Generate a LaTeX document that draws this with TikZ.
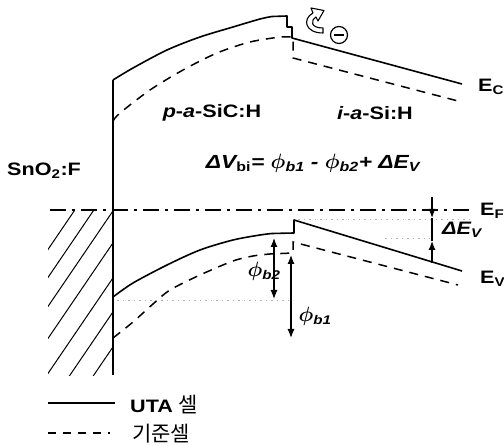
\documentclass[tikz,border=0pt]{standalone}
\usepackage{fontspec}
\setmainfont[FakeStretch=1.2]{Liberation Sans}
\newfontfamily\krfont{Noto Sans CJK KR}
\usetikzlibrary{arrows.meta}
\tikzset{
  lbl/.style={font=\fontsize{18}{20}\selectfont\bfseries, inner sep=0pt},
  band/.style={line width=1.6pt, line join=round},
  bandd/.style={line width=1.5pt, dash pattern=on 9pt off 7pt},
  fermi/.style={line width=1.3pt, dash pattern=on 16pt off 6pt on 3pt off 6pt},
  faint/.style={gray!60, line width=0.6pt, dash pattern=on 1.5pt off 4pt},
  dim/.style={line width=1.2pt, {Latex[length=9pt,width=7pt]}-{Latex[length=9pt,width=7pt]}},
  dimone/.style={line width=1.2pt, -{Latex[length=9pt,width=7pt]}},
  hatchline/.style={line width=1pt}
}
\newcommand{\phisym}{{\fontsize{21}{22}\selectfont\boldmath$\phi$}}
\begin{document}
\begin{tikzpicture}[x=1pt,y=-1pt]
\useasboundingbox (0,0) rectangle (504,446);

% named coordinates
\coordinate (wtop) at (113,80);
\coordinate (wbot) at (113,375);
\coordinate (efL) at (50,210);
\coordinate (efR) at (470,210);

% hatched electrode
\begin{scope}
\clip (48,212) rectangle (113,376);
\foreach \c in {320,348,377,409,444,478,513}{
  \draw[hatchline] (40,\c-58.8) -- (120,\c-176.4);
}
\end{scope}

% electrode boundary
\draw[line width=1.4pt] (wtop) -- (wbot);

% Fermi level
\draw[fermi] (efL) -- (efR);

% faint dotted guides
\coordinate (d1a) at (117,300); \coordinate (d1b) at (293,300);
\coordinate (d2a) at (298,219); \coordinate (d2b) at (470,219);
\coordinate (d3a) at (385,238); \coordinate (d3b) at (430,238);
\draw[faint] (d1a) -- (d1b);
\draw[faint] (d2a) -- (d2b);
\draw[faint] (d3a) -- (d3b);

% conduction band, UTA cell (solid)
\draw[band] plot[smooth] coordinates {(113,80) (133,68) (167,50) (200,37) (233,27) (260,19) (272,16.5)}
  -- (287,16) -- (287,27) -- (292,27) -- (292,38) -- (462,84);
% conduction band, reference cell (dashed)
\draw[bandd] plot[smooth] coordinates {(113,121) (120,113) (150,90) (183,70) (217,53) (250,42) (280,37)}
  -- (293,37) -- (293,58) -- (458,101);

% valence band, UTA cell (solid)
\draw[band] plot[smooth] coordinates {(113,297) (133,283) (167,265) (200,250) (233,240) (260,235) (272,233.5)}
  -- (294,233) -- (294,220) -- (462,271);
% valence band, reference cell (dashed)
\draw[bandd] plot[smooth] coordinates {(113,338) (133,322) (153,304) (170,290) (200,275) (233,261) (253,256) (270,254)}
  -- (293,253) -- (293,242) -- (458,285);

% barrier arrows
\coordinate (b2t) at (274,238); \coordinate (b2b) at (274,299);
\coordinate (b1t) at (291,255); \coordinate (b1b) at (291,338);
\draw[dim] (b2t) -- (b2b);
\draw[dim] (b1t) -- (b1b);

% Delta E_V arrows
\coordinate (dvA) at (432,197); \coordinate (dvB) at (432,218);
\coordinate (dvC) at (432,241); \coordinate (dvD) at (432,263);
\draw[dimone] (dvA) -- (dvB);
\draw[line width=1.2pt] (dvB) -- (dvC);
\draw[dimone] (dvD) -- (dvC);

% electron with curved arrow
\draw[line width=1.1pt, fill=white, line join=round]
  (323,33) .. controls (305,33) and (302,19) .. (313,13) -- (311,8) -- (324,10.5)
  -- (318,21) -- (316,17) .. controls (310,21) and (311,28) .. (323,28) -- cycle;
\node[circle, draw, line width=1.2pt, minimum size=17pt, inner sep=0pt] (el) at (339,35) {};
\draw[line width=1.4pt] ([xshift=-5pt]el.center) -- ([xshift=5pt]el.center);

% labels
\node[lbl] (ec) at (478,87) [anchor=west] {E\textsubscript{C}};
\node[lbl] (ef) at (480,211) [anchor=west] {E\textsubscript{F}};
\node[lbl] (ev) at (480,279) [anchor=west] {E\textsubscript{V}};
\node[lbl] (dev) at (442,230) [anchor=west] {\itshape ΔE\textsubscript{V}};
\node[lbl] (pasic) at (212,113) {\itshape p\upshape-\itshape a\upshape-SiC:H};
\node[lbl] (iasi) at (375,113) {\itshape i\upshape-\itshape a\upshape-Si:H};
\node[lbl] (sno) at (7,171) [anchor=west] {SnO\textsubscript{2}:F};
\node[lbl, font=\fontsize{19}{21}\selectfont\bfseries] (vbi) at (313,163) {\itshape ΔV\textsubscript{\upshape bi}= \phisym\textsubscript{b1} - \phisym\textsubscript{b2}+ ΔE\textsubscript{V}};
\node[lbl] (phib2) at (264,271) {\itshape\phisym\textsubscript{b2}};
\node[lbl] (phib1) at (315,316) {\itshape\phisym\textsubscript{b1}};

% legend
\coordinate (l1a) at (48,403); \coordinate (l1b) at (115,403);
\coordinate (l2a) at (48,433); \coordinate (l2b) at (110,433);
\draw[line width=1.2pt] (l1a) -- (l1b);
\draw[line width=1.2pt, dash pattern=on 8pt off 7pt] (l2a) -- (l2b);
\node[lbl, anchor=west] (leg1) at (130,405) {UTA {\krfont\mdseries\fontsize{21}{24}\selectfont 셀}};
\node[anchor=west, inner sep=0pt, font=\krfont\fontsize{21}{24}\selectfont] (leg2) at (132,434) {기준셀};
\end{tikzpicture}
\end{document}
